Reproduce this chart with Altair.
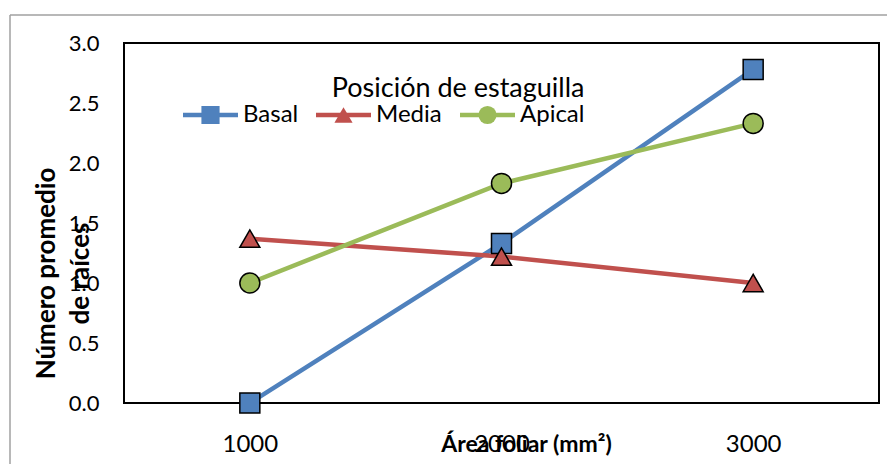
import altair as alt
import pandas as pd

areas = ["1000", "2000", "3000"]
series = ["Basal", "Media", "Apical"]
basal = [0.0, 1.33, 2.78]
media = [1.37, 1.22, 1.0]
apical = [1.0, 1.83, 2.33]
colors = ["#4F81BD", "#C0504D", "#9BBB59"]
shapes = ["square", "triangle-up", "circle"]

rows = []
for s, vals in zip(series, [basal, media, apical]):
    for a, v in zip(areas, vals):
        rows.append({"Area": a, "Pos": s, "Pos2": s, "Valor": v})
df = pd.DataFrame(rows)

FONT = "Lato"
LEG_FS = 24
LEG_TITLE = "Posición de estaguilla"

x = alt.X("Area:N", sort=areas,
          scale=alt.Scale(type="point", padding=0.5),
          axis=alt.Axis(title="Área foliar (mm²)", labelAngle=0, ticks=False, domain=False,
                        labelPadding=29, labelFontSize=24, labelFont=FONT, labelColor="black",
                        titleFont=FONT, titleFontSize=23, titleFontWeight="bold", titleColor="black",
                        titleX=402, titleY=48, titleBaseline="alphabetic", titleAlign="center"))
y = alt.Y("Valor:Q",
          scale=alt.Scale(domain=[0, 3], nice=False),
          axis=alt.Axis(title=["Número  promedio", "de raíces"], values=[0, 0.5, 1, 1.5, 2, 2.5, 3],
                        format=".1f", ticks=False, domain=False, grid=False,
                        labelPadding=25, labelFontSize=22, labelFont=FONT, labelColor="black",
                        titleFont=FONT, titleFontSize=26, titleFontWeight="bold", titleColor="black",
                        titleX=-78, titleY=230, titleAngle=-90, titleBaseline="middle",
                        titleAlign="center", titleLineHeight=34))

LX, LY = 56.5, 33
LO = 2.5
CP = 15
common = dict(title=LEG_TITLE, orient="none", direction="horizontal", padding=0,
              titleFont=FONT, titleFontSize=27, titleFontWeight="normal", titleColor="black",
              titleAnchor="end", titlePadding=0, titleLimit=500, clipHeight=24,
              labelFont=FONT, labelFontSize=LEG_FS, labelColor="black", columnPadding=CP)

lines = alt.Chart(df).mark_line(strokeWidth=4.5).encode(
    x=x, y=y,
    color=alt.Color("Pos2:N", sort=series,
                    scale=alt.Scale(range=colors),
                    legend=alt.Legend(legendX=LX, legendY=LY,
                                      symbolType="stroke", symbolSize=3025, symbolStrokeWidth=4.5,
                                      labelOffset=LO, **common)),
    detail="Pos:N",
)

marker_legend = alt.Legend(legendX=LX + 18, legendY=LY,
                           symbolSize=330, symbolStrokeColor="black", symbolStrokeWidth=1.5,
                           labelOpacity=0, titleOpacity=0, labelOffset=LO + 36, **common)

points = alt.Chart(df).mark_point(filled=True, size=400, stroke="black", strokeWidth=1.5, opacity=1).encode(
    x=x, y=y,
    shape=alt.Shape("Pos:N", sort=series, scale=alt.Scale(domain=series, range=shapes),
                    legend=marker_legend),
    fill=alt.Fill("Pos:N", sort=series, scale=alt.Scale(domain=series, range=colors),
                  legend=marker_legend),
)

frame = alt.Data(values=[{}])
top_rule = alt.Chart(frame).mark_rule(color="#a0a0a0", strokeWidth=1.5).encode(
    x=alt.value(-114), x2=alt.value(800), y=alt.value(-28))
left_rule = alt.Chart(frame).mark_rule(color="#a0a0a0", strokeWidth=1.5).encode(
    x=alt.value(-114), y=alt.value(-28), y2=alt.value(460))

chart = alt.layer(top_rule, left_rule, lines, points).properties(
    width=755, height=360,
    padding={"left": 124, "top": 43, "right": 8, "bottom": 61},
    autosize=alt.AutoSizeParams(type="none"),
).configure_view(stroke="black", strokeWidth=2)

chart.save("out.html", embed_options={"renderer": "svg", "actions": False})
